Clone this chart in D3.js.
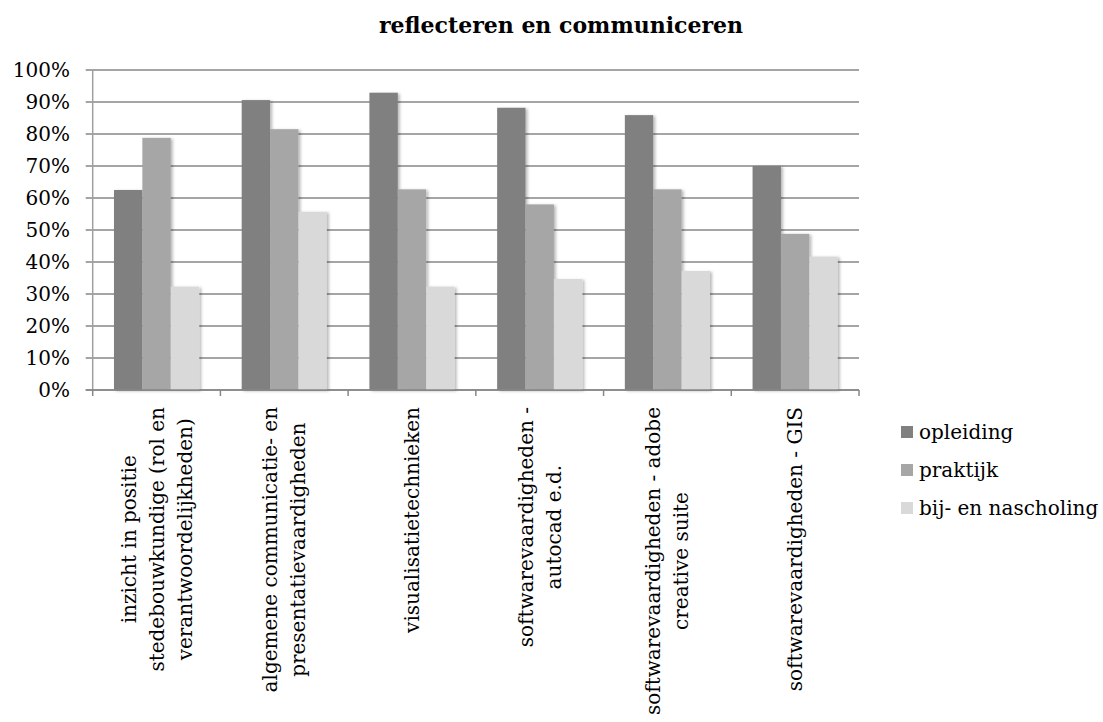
<!DOCTYPE html>
<html><head><meta charset="utf-8">
<script src="https://cdn.jsdelivr.net/npm/d3@7"></script>
<style>body{margin:0;background:#fff}svg{display:block}</style>
</head><body>
<script>
const title = "reflecteren en communiceren";
const categories = [
  ["inzicht in positie","stedebouwkundige (rol en","verantwoordelijkheden)"],
  ["algemene communicatie- en","presentatievaardigheden"],
  ["visualisatietechnieken"],
  ["softwarevaardigheden -","autocad e.d."],
  ["softwarevaardigheden - adobe","creative suite"],
  ["softwarevaardigheden - GIS"]
];
const seriesNames = ["opleiding","praktijk","bij- en nascholing"];
const opleiding = [62.5, 90.6, 92.9, 88.2, 85.9, 70.0];
const praktijk  = [78.8, 81.5, 62.7, 58.0, 62.7, 48.8];
const nascholing = [32.3, 55.7, 32.3, 34.7, 37.2, 41.7];
const yTicks = [0,10,20,30,40,50,60,70,80,90,100];
const colors = ["#808080","#a6a6a6","#d9d9d9"];

(function(){
const W = 1103, H = 722;
const font = "'DejaVu Serif', serif";
const svg = d3.select("body").append("svg").attr("width", W).attr("height", H);

const defs = svg.append("defs");
const f = defs.append("filter").attr("id","sh").attr("x","-20%").attr("y","-5%").attr("width","150%").attr("height","115%");
f.append("feDropShadow").attr("dx",2).attr("dy",1).attr("stdDeviation",1.6).attr("flood-color","#000").attr("flood-opacity",0.28);

const pL = 92.7, pR = 859, pT = 70, pB = 390;
const idx = categories.map((d,i)=>i);
const x0 = d3.scaleBand().domain(idx).range([pL, pR]).paddingInner(0).paddingOuter(0);
const bw = x0.bandwidth();
const x1 = d3.scaleBand().domain([0,1,2]).range([bw*0.75/4.5, bw - bw*0.75/4.5]).padding(0);
const y = d3.scaleLinear().domain([0,100]).range([pB, pT]);

svg.append("text").attr("x", 561).attr("y", 33).attr("text-anchor","middle")
  .attr("font-family", font).attr("font-weight","bold").attr("font-size", 22).text(title);

const gy = svg.append("g");
gy.selectAll("line").data(yTicks).join("line")
  .attr("x1", pL - 7).attr("x2", pR)
  .attr("y1", d=>y(d)).attr("y2", d=>y(d))
  .attr("stroke", "#878787").attr("stroke-width", 1.5);
gy.selectAll("text").data(yTicks).join("text")
  .attr("x", 70).attr("y", d=>y(d)).attr("dy","0.36em").attr("text-anchor","end")
  .attr("font-family", font).attr("font-size", 20).attr("fill","#000").text(d=>d+"%");

const series = [opleiding, praktijk, nascholing];
const bars = svg.append("g");
series.forEach((vals, s) => {
  bars.selectAll(null).data(vals).join("rect")
    .attr("x", (d,i)=>x0(i)+x1(s)).attr("width", x1.bandwidth())
    .attr("y", d=>y(d)).attr("height", d=>y(0)-y(d))
    .attr("fill", colors[s]).attr("filter","url(#sh)");
});

svg.append("line").attr("x1", pL).attr("x2", pL).attr("y1", pT).attr("y2", pB)
  .attr("stroke","#a0a0a0").attr("stroke-width",1.5);
svg.append("line").attr("x1", pL - 7).attr("x2", pR).attr("y1", pB).attr("y2", pB)
  .attr("stroke","#878787").attr("stroke-width",1.5);
const bounds = idx.map(i=>x0(i)).concat([pR]);
svg.append("g").selectAll("line").data(bounds).join("line")
  .attr("x1", d=>d).attr("x2", d=>d).attr("y1", pB).attr("y2", pB+6)
  .attr("stroke","#878787").attr("stroke-width",1.5);

const lh = 28;
const xl = svg.append("g");
categories.forEach((lines, i) => {
  const cx = x0(i) + bw/2;
  const g = xl.append("g");
  const texts = lines.map((t, j) => g.append("text")
    .attr("font-family", font).attr("font-size", 20).attr("text-anchor","middle").text(t));
  const maxLen = d3.max(texts, t => t.node().getComputedTextLength());
  const cy = 407 + maxLen/2;
  const n = lines.length;
  texts.forEach((t, j) => {
    const off = (j - (n-1)/2) * lh;
    t.attr("transform", `translate(${cx + off + 7},${cy}) rotate(-90)`);
  });
});

const lg = svg.append("g");
seriesNames.forEach((name, s) => {
  const yy = 432 + s*38;
  lg.append("rect").attr("x", 901).attr("y", yy-6).attr("width", 12).attr("height", 12).attr("fill", colors[s]);
  lg.append("text").attr("x", 919).attr("y", yy).attr("dy","0.35em")
    .attr("font-family", font).attr("font-size", 20).text(name);
});
})();
</script>
</body></html>
